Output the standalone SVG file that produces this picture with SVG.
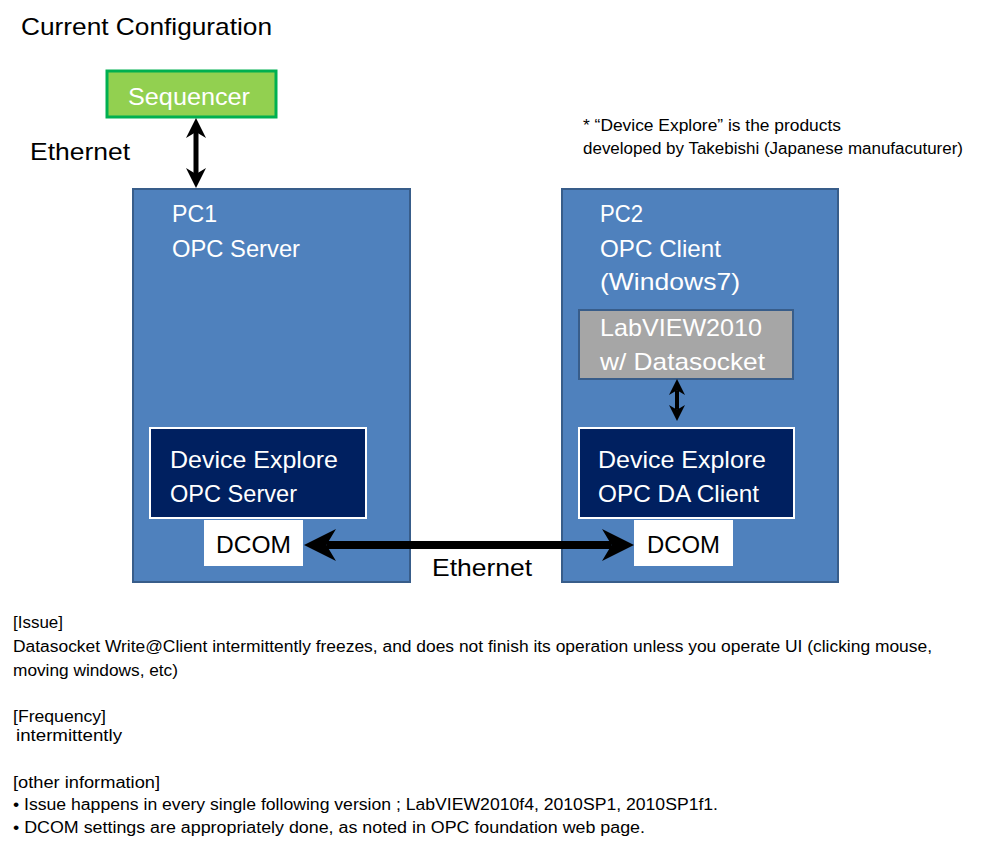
<svg xmlns="http://www.w3.org/2000/svg" width="999" height="847" viewBox="0 0 999 847">
<style>
text{font-family:"Liberation Sans","Open Sans",sans-serif;}
.big{font-size:24px;}
.w{fill:#fff;}
.k{fill:#000;}
.sm{font-size:16px;fill:#000;}
.pc{fill:#4F81BD;stroke:#385D8A;stroke-width:2;}
.dev{fill:#002060;stroke:#fff;stroke-width:2;}
.dcom{fill:#fff;}
.conn{stroke:#000;fill:none;marker-start:url(#ah);marker-end:url(#ah);}
</style>
<defs>
<marker id="ah" viewBox="0 0 10 10" refX="3" refY="5" markerWidth="4" markerHeight="4" orient="auto-start-reverse" markerUnits="strokeWidth">
<path d="M0,0 L10,5 L0,10 L3,5 z" fill="#000"/>
</marker>
</defs>
<rect width="999" height="847" fill="#fff"/>
<text x="21" y="35" class="big k" textLength="251" lengthAdjust="spacingAndGlyphs">Current Configuration</text>

<g id="sequencer">
<rect x="107" y="71" width="169" height="46" fill="#92D050" stroke="#00B050" stroke-width="3"/>
<text x="128" y="105" class="big w" textLength="122" lengthAdjust="spacingAndGlyphs">Sequencer</text>
</g>
<text x="30" y="160" class="big k" textLength="100" lengthAdjust="spacingAndGlyphs">Ethernet</text>

<g id="pc1">
<rect x="133" y="189" width="277" height="393" class="pc"/>
<text x="172" y="222" class="big w" textLength="45" lengthAdjust="spacingAndGlyphs">PC1</text>
<text x="172" y="257" class="big w" textLength="128" lengthAdjust="spacingAndGlyphs">OPC Server</text>
</g>
<g id="pc1-server">
<rect x="150" y="428" width="216" height="90" class="dev"/>
<text x="170" y="468" class="big w" textLength="168" lengthAdjust="spacingAndGlyphs">Device Explore</text>
<text x="170" y="502" class="big w" textLength="127" lengthAdjust="spacingAndGlyphs">OPC Server</text>
</g>
<g id="pc1-dcom">
<rect x="204" y="520" width="99" height="46" class="dcom"/>
<text x="216" y="553" class="big k" textLength="75" lengthAdjust="spacingAndGlyphs">DCOM</text>
</g>

<g id="pc2">
<rect x="562" y="189" width="276" height="393" class="pc"/>
<text x="600" y="222" class="big w" textLength="43" lengthAdjust="spacingAndGlyphs">PC2</text>
<text x="600" y="257" class="big w" textLength="121" lengthAdjust="spacingAndGlyphs">OPC Client</text>
<text x="600" y="290" class="big w" textLength="140" lengthAdjust="spacingAndGlyphs">(Windows7)</text>
</g>
<g id="labview">
<rect x="579" y="310" width="214" height="69" fill="#A6A6A6" stroke="#385D8A" stroke-width="2"/>
<text x="600" y="336" class="big w" textLength="162" lengthAdjust="spacingAndGlyphs">LabVIEW2010</text>
<text x="600" y="370" class="big w" textLength="165" lengthAdjust="spacingAndGlyphs">w/ Datasocket</text>
</g>
<g id="pc2-client">
<rect x="579" y="428" width="215" height="90" class="dev"/>
<text x="598" y="468" class="big w" textLength="168" lengthAdjust="spacingAndGlyphs">Device Explore</text>
<text x="598" y="502" class="big w" textLength="161" lengthAdjust="spacingAndGlyphs">OPC DA Client</text>
</g>
<g id="pc2-dcom">
<rect x="634" y="520" width="99" height="46" class="dcom"/>
<text x="647" y="553" class="big k" textLength="73" lengthAdjust="spacingAndGlyphs">DCOM</text>
</g>

<g id="connectors">
<line x1="196" y1="132" x2="196" y2="174" class="conn" stroke-width="5"/>
<line x1="677" y1="390.2" x2="677" y2="409.8" class="conn" stroke-width="4"/>
<line x1="326.4" y1="545" x2="611.6" y2="545" class="conn" stroke-width="8"/>
</g>
<text x="432" y="576" class="big k" textLength="100" lengthAdjust="spacingAndGlyphs">Ethernet</text>

<g id="note">
<text x="583" y="131" class="sm" textLength="258" lengthAdjust="spacingAndGlyphs">* “Device Explore” is the products</text>
<text x="583" y="154" class="sm" textLength="380" lengthAdjust="spacingAndGlyphs">developed by Takebishi (Japanese manufacuturer)</text>
</g>

<g id="issue-text">
<text x="13" y="628" class="sm" textLength="50" lengthAdjust="spacingAndGlyphs">[Issue]</text>
<text x="13" y="652" class="sm" textLength="919" lengthAdjust="spacingAndGlyphs">Datasocket Write@Client  intermittently freezes, and does not finish its operation unless you operate UI (clicking mouse,</text>
<text x="13" y="676" class="sm" textLength="165" lengthAdjust="spacingAndGlyphs">moving windows, etc)</text>
<text x="13" y="722" class="sm" textLength="93" lengthAdjust="spacingAndGlyphs">[Frequency]</text>
<text x="16" y="741" class="sm" textLength="106" lengthAdjust="spacingAndGlyphs">intermittently</text>
<text x="13" y="788" class="sm" textLength="147" lengthAdjust="spacingAndGlyphs">[other information]</text>
<text x="13" y="810" class="sm" textLength="705" lengthAdjust="spacingAndGlyphs">• Issue happens in every single following version ; LabVIEW2010f4, 2010SP1, 2010SP1f1.</text>
<text x="13" y="833" class="sm" textLength="632" lengthAdjust="spacingAndGlyphs">• DCOM settings are appropriately done, as noted in OPC foundation web page.</text>
</g>
</svg>
